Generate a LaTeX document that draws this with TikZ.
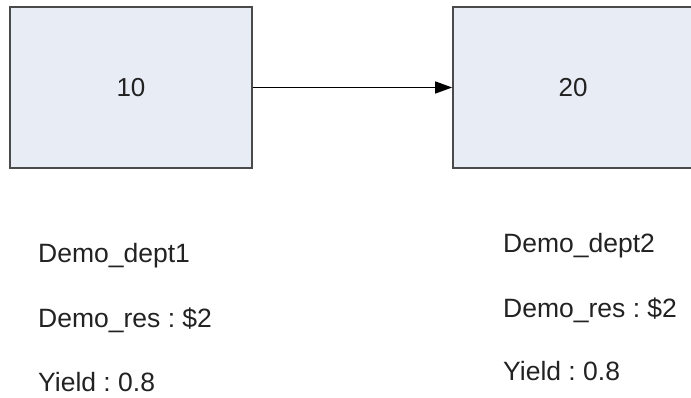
\documentclass[tikz,border=0pt]{standalone}
\usepackage{fontspec}
\setmainfont{Liberation Sans}
\frenchspacing
\usetikzlibrary{arrows.meta}
\definecolor{boxfill}{HTML}{E8ECF5}
\definecolor{boxline}{HTML}{4A4A4A}
\definecolor{txt}{HTML}{222222}
\tikzset{
  deptbox/.style={draw=boxline, line width=1.6pt, fill=boxfill, rectangle,
    minimum width=242pt, minimum height=161pt, inner sep=0pt,
    font=\fontsize{26}{30}\selectfont, text=txt},
  info/.style={anchor=base west, inner sep=0pt, font=\fontsize{26.5}{30}\selectfont, text=txt},
  flow/.style={line width=1.3pt, draw=black, -{Triangle[length=17pt,width=12pt]}}
}
\begin{document}
\begin{tikzpicture}[x=1pt,y=-1pt]
\useasboundingbox (0,0) rectangle (691,398);
\node[deptbox] (a) at (131,87.5) {10};
\node[deptbox] (b) at (574,87.5) {\hspace*{-2pt}20};
\draw[flow] (a.east) -- (b.west);
\node[info] (a1) at (38,263) {Demo\_dept1};
\node[info] (a2) at (38,327) {Demo\_res : \$2};
\node[info] (a3) at (38,391) {Yield : 0.8};
\node[info] (b1) at (503,253) {Demo\_dept2};
\node[info] (b2) at (503,317) {Demo\_res : \$2};
\node[info] (b3) at (503,380) {Yield : 0.8};
\end{tikzpicture}
\end{document}
